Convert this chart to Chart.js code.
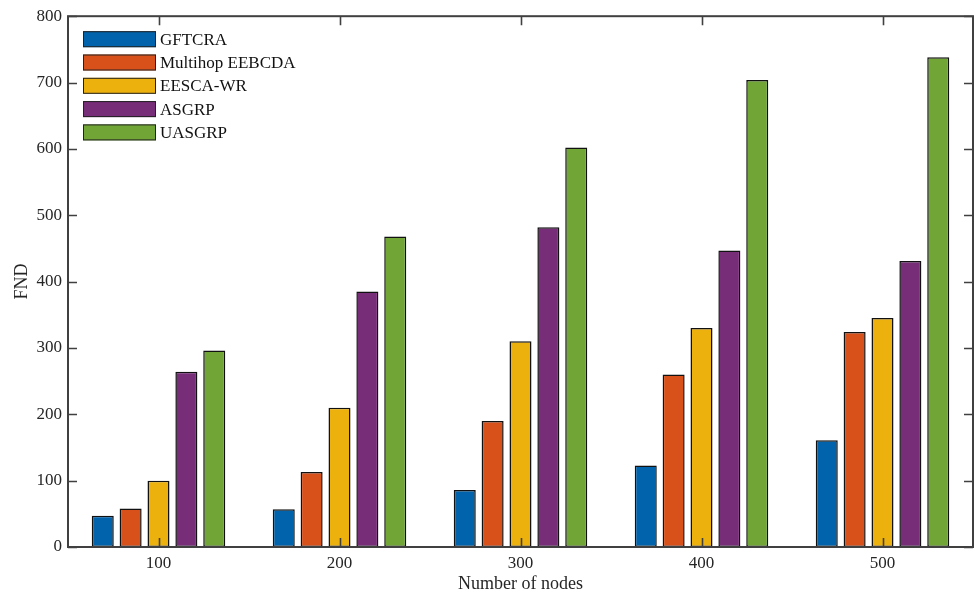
<!DOCTYPE html>
<html>
<head>
<meta charset="utf-8">
<script src="https://cdn.jsdelivr.net/npm/chart.js@4/dist/chart.umd.min.js"></script>
<style>
  html, body { margin: 0; padding: 0; background: #fff; }
  #c { display: block; }
</style>
</head>
<body>
<canvas id="c" width="974" height="595"></canvas>
<script>
// Number of nodes on the x axis
const nodeCounts = ['100', '200', '300', '400', '500'];

// FND per protocol
const gftcra = [47, 57, 86, 123, 161];
const multihopEebcda = [58, 113, 190, 260, 324];
const eescaWr = [100, 210, 310, 330, 345];
const asgrp = [264, 385, 482, 447, 431];
const uasgrp = [296, 468, 602, 704, 738];

const seriesNames = ['GFTCRA', 'Multihop EEBCDA', 'EESCA-WR', 'ASGRP', 'UASGRP'];
const seriesValues = [gftcra, multihopEebcda, eescaWr, asgrp, uasgrp];
const seriesColors = ['#0063AC', '#D9511A', '#EDB10E', '#772D78', '#71A535'];

const yTicks = [0, 100, 200, 300, 400, 500, 600, 700, 800];

const SERIF = "'Liberation Serif', 'Times New Roman', serif";
const AXIS_COLOR = '#404040';
const TEXT_COLOR = '#262626';

// Boxed axes with inward tick marks on all four sides
const boxAxes = {
  id: 'boxAxes',
  afterDatasetsDraw(chart) {
    const { ctx, chartArea: a, scales } = chart;
    const tick = 9;
    ctx.save();
    ctx.strokeStyle = AXIS_COLOR;
    ctx.lineWidth = 1.6;
    ctx.beginPath();
    scales.y.ticks.forEach((t, i) => {
      const y = Math.round(scales.y.getPixelForTick(i)) + 0.5;
      ctx.moveTo(a.left, y); ctx.lineTo(a.left + tick, y);
      ctx.moveTo(a.right, y); ctx.lineTo(a.right - tick, y);
    });
    scales.x.ticks.forEach((t, i) => {
      const x = Math.round(scales.x.getPixelForTick(i)) + 0.5;
      ctx.moveTo(x, a.bottom); ctx.lineTo(x, a.bottom - tick);
      ctx.moveTo(x, a.top); ctx.lineTo(x, a.top + tick);
    });
    ctx.stroke();
    ctx.lineWidth = 2;
    ctx.strokeRect(a.left, a.top, a.right - a.left, a.bottom - a.top);
    ctx.restore();
  }
};

// Legend column in the upper-left corner of the plot
const cornerLegend = {
  id: 'cornerLegend',
  afterDraw(chart) {
    const { ctx, chartArea: a } = chart;
    const x0 = a.left + 15, y0 = a.top + 15, w = 73, h = 16, step = 23.3;
    ctx.save();
    ctx.font = '17px ' + SERIF;
    ctx.textBaseline = 'middle';
    ctx.textAlign = 'left';
    chart.data.datasets.forEach((ds, i) => {
      const y = y0 + i * step;
      ctx.fillStyle = ds.backgroundColor;
      ctx.fillRect(x0, y, w, h);
      ctx.strokeStyle = '#222';
      ctx.lineWidth = 1;
      ctx.strokeRect(x0 + 0.5, y + 0.5, w - 1, h - 1);
      ctx.fillStyle = '#111';
      ctx.fillText(ds.label, x0 + w + 4, y + h / 2 + 1);
    });
    ctx.restore();
  }
};

new Chart(document.getElementById('c'), {
  type: 'bar',
  data: {
    labels: nodeCounts,
    datasets: seriesNames.map((name, i) => ({
      label: name,
      data: seriesValues[i],
      backgroundColor: seriesColors[i],
      borderColor: '#111111',
      borderWidth: 1.5,
      borderSkipped: false,
      categoryPercentage: 0.77,
      barPercentage: 0.79
    }))
  },
  options: {
    responsive: false,
    animation: false,
    devicePixelRatio: 1,
    layout: { padding: { left: 0, right: 1, top: 15, bottom: 0 } },
    plugins: {
      legend: { display: false },
      tooltip: { enabled: false }
    },
    scales: {
      x: {
        offset: true,
        grid: { display: false, drawTicks: false },
        border: { display: false },
        ticks: { color: TEXT_COLOR, font: { family: SERIF, size: 17 }, padding: 6 },
        title: { display: true, text: 'Number of nodes', color: TEXT_COLOR,
                 font: { family: SERIF, size: 18 }, padding: { top: 0, bottom: 0 } },
        afterFit(scale) { scale.height = 48; }
      },
      y: {
        min: 0,
        max: 800,
        afterBuildTicks(scale) { scale.ticks = yTicks.map(v => ({ value: v })); },
        grid: { display: false, drawTicks: false },
        border: { display: false },
        ticks: { color: TEXT_COLOR, font: { family: SERIF, size: 17 }, padding: 6 },
        title: { display: true, text: 'FND', color: TEXT_COLOR,
                 font: { family: SERIF, size: 18 }, padding: { top: 11, bottom: 0 } },
        afterFit(scale) { scale.width = 68; }
      }
    }
  },
  plugins: [boxAxes, cornerLegend]
});
</script>
</body>
</html>
